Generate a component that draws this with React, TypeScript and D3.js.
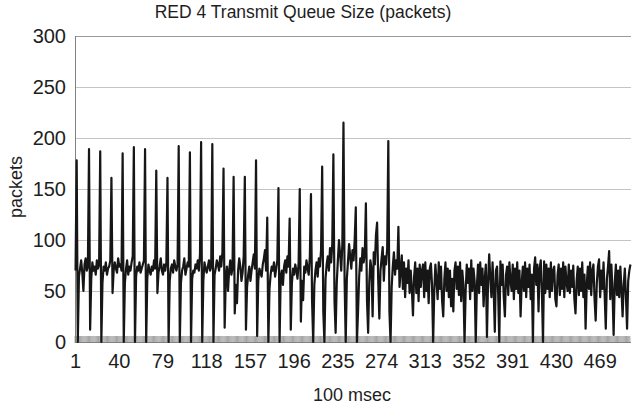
import React from "react";
import * as d3 from "d3";

// RED 4 transmit queue, first part with periodic bursts (categories 1-290)
const burstQueue = [
  70, 178, 0, 64, 72, 80, 68, 50, 76, 82,
  70, 74, 189, 12, 62, 78, 70, 74, 66, 80,
  72, 76, 187, 0, 58, 74, 70, 78, 66, 72,
  74, 80, 161, 48, 70, 78, 72, 68, 82, 74,
  76, 70, 185, 0, 58, 72, 80, 66, 74, 70,
  78, 84, 191, 0, 64, 74, 70, 78, 68, 72,
  76, 80, 189, 0, 62, 76, 70, 66, 74, 70,
  80, 72, 168, 48, 68, 74, 82, 70, 66, 76,
  70, 78, 161, 0, 60, 72, 76, 68, 80, 74,
  70, 76, 192, 0, 58, 70, 74, 82, 66, 72,
  78, 74, 186, 0, 62, 70, 68, 76, 72, 80,
  70, 86, 196, 0, 60, 78, 72, 68, 74, 80,
  70, 74, 194, 0, 66, 72, 80, 76, 70, 84,
  74, 88, 170, 14, 62, 74, 50, 70, 80, 66,
  72, 162, 28, 56, 38, 70, 82, 74, 60, 68,
  84, 162, 12, 54, 66, 74, 60, 70, 78, 86,
  72, 178, 6, 60, 72, 68, 64, 76, 82, 90,
  70, 122, 0, 52, 66, 74, 70, 78, 64, 72,
  80, 151, 0, 64, 70, 56, 74, 80, 68, 84,
  74, 121, 12, 58, 72, 66, 76, 70, 62, 78,
  150, 20, 60, 41, 74, 68, 80, 72, 66, 84,
  145, 40, 0, 56, 70, 78, 64, 82, 74, 90,
  172, 30, 0, 62, 76, 84, 70, 92, 78, 96,
  184, 40, 9, 58, 80, 100, 86, 70, 96, 215,
  60, 0, 62, 78, 96, 84, 72, 90, 80, 100,
  132, 0, 30, 64, 82, 70, 92, 78, 86, 136,
  40, 9, 58, 80, 72, 25, 88, 76, 105, 117,
  60, 23, 70, 82, 93, 60, 84, 76, 92, 197,
  30, 0, 54, 74, 88, 66, 80, 72, 113, 54,
];

// second part, steadier queue (categories 291-496)
const steadyQueue = [
  70, 85, 52, 78, 44, 72, 58, 80, 48, 70,
  52, 26, 64, 78, 48, 72, 40, 76, 54, 70,
  76, 44, 78, 50, 70, 38, 72, 77, 56, 0,
  50, 76, 60, 42, 78, 52, 74, 40, 25, 62,
  78, 50, 72, 44, 70, 35, 62, 30, 70, 78,
  52, 74, 46, 78, 40, 70, 56, 0, 50, 76,
  58, 72, 42, 80, 50, 72, 60, 0, 54, 76,
  48, 78, 56, 72, 35, 62, 76, 5, 60, 86,
  62, 44, 78, 52, 10, 70, 74, 48, 0, 79,
  56, 76, 44, 25, 66, 74, 46, 78, 60, 50,
  76, 42, 72, 52, 78, 48, 70, 25, 58, 74,
  50, 78, 44, 72, 54, 76, 42, 66, 0, 72,
  83, 56, 76, 30, 72, 80, 50, 0, 79, 48,
  76, 52, 72, 44, 78, 50, 70, 74, 42, 35,
  66, 76, 46, 72, 52, 78, 44, 74, 58, 50,
  76, 48, 70, 54, 75, 42, 28, 60, 74, 46,
  72, 50, 78, 44, 66, 13, 56, 74, 52, 78,
  46, 70, 76, 42, 21, 58, 74, 81, 44, 70,
  52, 78, 46, 13, 62, 74, 89, 42, 76, 50,
  7, 58, 76, 46, 70, 44, 74, 52, 25, 56,
  72, 44, 13, 60, 70, 76,
];

const xTickLabels = [1, 40, 79, 118, 157, 196, 235, 274, 313, 352, 391, 430, 469];
const yTicks = [0, 50, 100, 150, 200, 250, 300];

const FONT = "'Liberation Sans', Arial, sans-serif";

export default function App() {
  const width = 632, height = 408;
  const margin = { top: 36, right: 1, bottom: 66, left: 75 };
  const values = burstQueue.concat(steadyQueue);
  const cats = values.map((_, i) => i + 1);

  const x = d3.scaleBand<number>()
    .domain(cats)
    .range([margin.left, width - margin.right])
    .padding(0);
  const y = d3.scaleLinear().domain([0, 300]).range([height - margin.bottom, margin.top]);
  const cx = (c: number) => (x(c) as number) + x.bandwidth() / 2;

  const path = d3.line<number>()
    .x((d, i) => cx(i + 1))
    .y(d => y(d))(values) as string;

  const bottom = y(0);
  const left = margin.left;
  const right = width - margin.right;

  return (
    <svg width={width} height={height} style={{ position: "absolute", left: 0, top: 0, background: "#fff" }}
      fontFamily={FONT}>
      {/* grid */}
      {yTicks.filter(t => t > 0).map(t => (
        <line key={"g" + t} x1={left} x2={right} y1={Math.round(y(t)) + 0.5} y2={Math.round(y(t)) + 0.5}
          stroke={t === 300 ? "#9a9a9a" : "#c4c4c4"} strokeWidth={1} />
      ))}

      {/* category tick band */}
      {cats.map(c => (
        <line key={"t" + c} x1={x(c) as number} x2={x(c) as number} y1={bottom - 6} y2={bottom + 1}
          stroke="#8a8a8a" strokeWidth={0.8} />
      ))}

      {/* axes */}
      <line x1={left + 0.5} x2={left + 0.5} y1={margin.top} y2={bottom} stroke="#808080" strokeWidth={1} />
      <line x1={left} x2={right} y1={bottom + 0.5} y2={bottom + 0.5} stroke="#808080" strokeWidth={1} />

      {/* data */}
      <path d={path} fill="none" stroke="#161616" strokeWidth={2.2} strokeLinejoin="round" />

      {/* y labels */}
      {yTicks.map(t => (
        <text key={"y" + t} x={66} y={y(t)} dy="0.36em" textAnchor="end" fontSize={20} fill="#1e1e1e">{t}</text>
      ))}

      {/* x labels */}
      {xTickLabels.map(l => (
        <text key={"x" + l} x={cx(l)} y={368} textAnchor="middle" fontSize={20} fill="#1e1e1e">{l}</text>
      ))}

      <text x={303} y={18} textAnchor="middle" fontSize={17.5} fill="#1e1e1e">RED 4 Transmit Queue Size (packets)</text>
      <text x={352} y={401} textAnchor="middle" fontSize={18} fill="#1e1e1e">100 msec</text>
      <text transform="translate(22,187) rotate(-90)" textAnchor="middle" fontSize={18} fill="#1e1e1e">packets</text>
    </svg>
  );
}
